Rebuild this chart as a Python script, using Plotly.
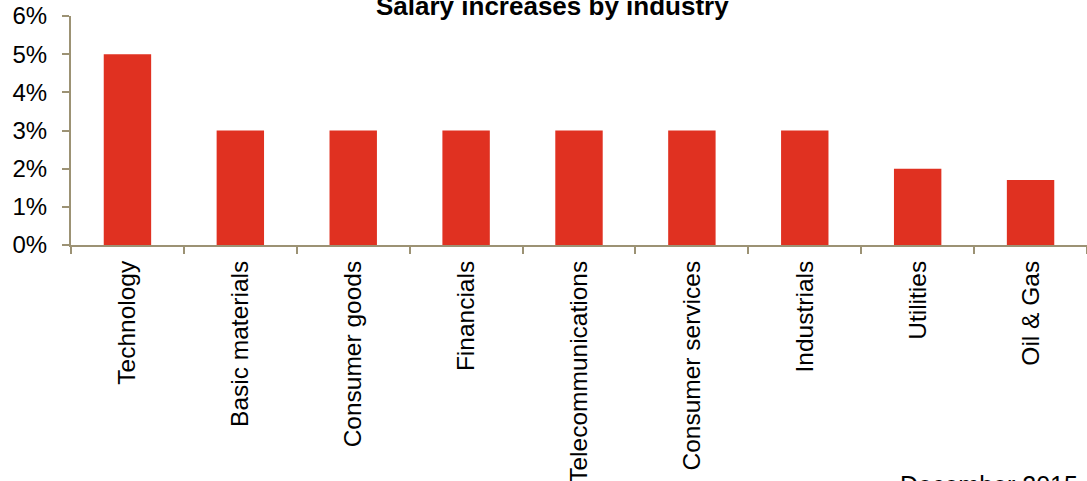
import plotly.graph_objects as go

# Salary increase by industry, December 2015
industries = [
    "Technology", "Basic materials", "Consumer goods", "Financials",
    "Telecommunications", "Consumer services", "Industrials", "Utilities", "Oil & Gas",
]
increase = [0.05, 0.03, 0.03, 0.03, 0.03, 0.03, 0.03, 0.02, 0.017]
y_ticks = [0, 0.01, 0.02, 0.03, 0.04, 0.05, 0.06]

W, H = 1087, 481
ML, MR, MT, MB = 71, 0, 16, 236
PW, PH = W - ML - MR, H - MT - MB

def px_x(px):
    return (px - ML) / PW

def px_y(py):
    return (H - MB - py) / PH

AXIS = "#9c9274"
FONT = "Liberation Sans, Arial, sans-serif"

fig = go.Figure(
    go.Bar(
        x=industries,
        y=increase,
        marker=dict(color="#e03121", line=dict(width=0)),
    )
)

fig.update_layout(
    width=W,
    height=H,
    margin=dict(l=ML, r=MR, t=MT, b=MB, autoexpand=False),
    paper_bgcolor="white",
    plot_bgcolor="white",
    bargap=0.58,
    showlegend=False,
    font=dict(family=FONT, color="black", size=23),
)

fig.update_xaxes(
    type="category",
    showline=True,
    linecolor=AXIS,
    linewidth=2,
    ticks="outside",
    tickson="boundaries",
    ticklen=7,
    tickwidth=2,
    tickcolor=AXIS,
    tickangle=-90,
    ticklabelstandoff=4,
    tickfont=dict(size=24.5),
    showgrid=False,
    zeroline=False,
)

fig.update_yaxes(
    range=[0, 0.06],
    tickvals=y_ticks,
    tickformat=".0%",
    showline=True,
    linecolor=AXIS,
    linewidth=2,
    ticks="outside",
    ticklen=7,
    tickwidth=2,
    tickcolor=AXIS,
    ticklabelstandoff=10,
    tickfont=dict(size=24),
    showgrid=False,
    zeroline=False,
)

fig.add_annotation(
    text="<b>Salary increases by industry</b>",
    xref="paper", yref="paper",
    x=px_x(552), y=px_y(23),
    xanchor="center", yanchor="bottom",
    showarrow=False,
    font=dict(size=26, family=FONT),
)

fig.add_annotation(
    text="December 2015",
    xref="paper", yref="paper",
    x=px_x(898), y=px_y(469),
    xanchor="left", yanchor="top",
    showarrow=False,
    font=dict(size=25, family=FONT),
)

fig.write_html("out.html")
